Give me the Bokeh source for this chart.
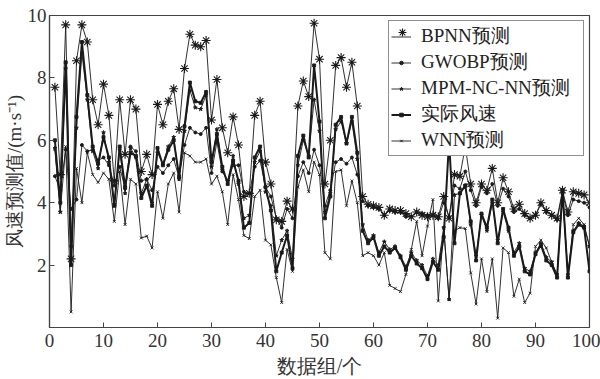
from bokeh.plotting import figure
from bokeh.models import Legend, LegendItem, FixedTicker
from bokeh.embed import file_html
from bokeh.resources import INLINE

x = list(range(1, 101))

bpnn = [7.7, 4.9, 9.7, 2.2, 8.55, 9.7, 9.15, 7.3, 6.5, 7.8,
        6.8, 4.7, 7.3, 5.55, 7.3, 7.0, 5.0, 5.55, 4.9, 7.15,
        6.5, 7.25, 7.65, 6.35, 8.3, 9.4, 9.05, 9.0, 9.2, 6.65,
        7.95, 6.4, 5.6, 6.75, 5.85, 4.2, 4.3, 6.8, 7.25, 5.3,
        4.6, 3.45, 3.4, 4.05, 3.8, 7.1, 7.9, 7.4, 9.75, 8.6,
        4.6, 6.0, 8.4, 8.65, 7.7, 8.5, 7.1, 4.2, 3.95, 3.9,
        3.85, 3.6, 3.8, 3.75, 3.75, 3.65, 3.55, 3.7, 3.6, 3.55,
        3.6, 3.55, 4.2, 3.5, 4.9, 4.85, 5.8, 4.6, 4.0, 4.6,
        4.4, 5.1, 4.0, 4.8, 4.35, 3.8, 3.95, 3.65, 3.5, 3.6,
        4.0, 3.75, 3.6, 3.5, 4.4, 3.7, 4.35, 4.3, 4.25, 4.0]

gwobp = [4.85, 4.4, 5.7, 3.8, 4.1, 5.85, 5.65, 5.7, 5.35, 5.45,
         5.2, 4.55, 5.15, 4.45, 5.8, 5.65, 4.7, 4.75, 4.4, 5.15,
         4.95, 5.2, 5.4, 4.8, 5.85, 6.4, 6.25, 6.2, 6.4, 4.95,
         5.95, 5.0, 4.7, 5.2, 5.2, 4.35, 4.3, 5.15, 5.35, 4.5,
         4.2, 3.5, 3.2, 3.8, 3.5, 4.85, 5.3, 4.95, 5.7, 5.2,
         3.9, 4.4, 5.3, 5.4, 5.25, 5.45, 4.9, 4.05, 3.9, 3.85,
         3.8, 3.6, 3.75, 3.7, 3.7, 3.55, 3.55, 3.7, 3.65, 3.6,
         3.6, 3.5, 4.0, 3.55, 4.55, 4.45, 5.0, 4.4, 3.9, 4.5,
         4.3, 4.6, 3.9, 4.45, 4.2, 3.7, 3.8, 3.6, 3.5, 3.6,
         3.95, 3.7, 3.6, 3.45, 4.3, 3.6, 4.1, 4.05, 4.0, 3.85]

mpm = [5.75, 3.7, 8.3, 2.6, 6.4, 8.8, 7.3, 5.65, 5.1, 6.25,
       5.3, 3.95, 5.7, 4.3, 5.75, 5.45, 4.3, 4.75, 4.0, 5.6,
       5.25, 5.8, 6.1, 4.75, 6.3, 7.6, 7.05, 7.0, 7.45, 5.15,
       6.35, 5.05, 4.7, 5.5, 4.6, 3.5, 3.6, 5.3, 5.65, 4.35,
       3.9, 2.3, 2.8, 3.1, 2.2, 5.2, 6.0, 5.5, 7.3, 6.3,
       3.7, 4.3, 6.35, 6.6, 5.9, 6.6, 5.4, 3.3, 2.8, 2.95,
       2.4, 2.75, 2.5, 2.6, 2.3, 1.95, 2.4, 2.15, 2.0, 1.65,
       2.2, 2.0, 3.2, 0.9, 4.25, 4.3, 4.55, 3.3, 2.3, 3.6,
       3.1, 4.0, 2.8, 3.7, 3.1, 2.4, 2.7, 1.9, 1.8, 2.4,
       2.7, 2.25, 2.1, 1.7, 4.4, 1.7, 3.1, 3.35, 3.25, 2.6]

actual = [6.0, 4.0, 8.5, 2.0, 6.75, 9.15, 7.45, 5.8, 5.25, 6.1,
          5.45, 3.9, 5.8, 4.5, 5.6, 5.5, 4.15, 4.55, 3.9, 5.75,
          5.2, 5.7, 6.0, 4.85, 6.45, 7.85, 7.25, 7.2, 7.55, 5.3,
          6.2, 5.15, 4.6, 5.35, 4.7, 3.2, 3.35, 5.45, 5.8, 4.5,
          3.75, 1.8, 2.4, 2.95, 1.9, 5.5, 6.15, 5.45, 8.4, 6.6,
          3.5, 4.2, 6.5, 6.75, 5.9, 6.75, 5.6, 3.1, 2.7, 2.9,
          2.3, 2.6, 2.4, 2.55, 2.25, 1.85, 2.3, 2.05, 1.9, 1.55,
          2.1, 1.85, 2.9, 6.0, 2.7, 4.3, 4.55, 3.4, 2.15, 3.65,
          3.2, 4.1, 2.7, 3.8, 3.2, 2.3, 2.6, 1.8, 1.7, 2.35,
          2.65, 2.15, 2.0, 1.6, 4.4, 1.6, 3.05, 3.3, 3.2, 1.8]

wnn = [5.7, 3.7, 5.8, 0.5, 5.1, 4.0, 5.6, 4.9, 4.65, 4.95,
       4.75, 3.4, 5.0, 3.3, 4.75, 4.6, 2.87, 2.93, 2.55, 4.35,
       3.5, 4.6, 4.95, 3.7, 5.6, 5.5, 5.3, 5.3, 5.4, 4.6,
       4.85, 4.35, 3.3, 4.9, 4.1, 2.95, 2.85, 4.2, 4.4, 2.8,
       2.65, 1.6, 0.8, 2.5, 1.8, 4.5, 5.05, 4.35, 5.3, 4.9,
       2.4, 2.2, 5.0, 5.05, 3.9, 4.7, 4.0, 2.3, 2.4, 2.3,
       2.0, 2.4, 1.35, 1.25, 1.15, 1.7, 2.5, 3.4, 2.3, 3.25,
       4.1, 0.85, 3.2, 0.9, 3.1, 3.2, 3.17, 1.75, 0.75, 2.2,
       1.15, 2.2, 0.3, 2.55, 2.4, 1.0, 1.55, 0.8, 1.1, 2.6,
       2.8, 2.55, 2.1, 1.65, 4.3, 1.65, 3.3, 3.5, 3.3, 2.6]

x_ticks = [0, 10, 20, 30, 40, 50, 60, 70, 80, 90, 100]
y_ticks = [2, 4, 6, 8, 10]

FONT = "Liberation Serif"
INK = "#1a1a1a"
FRAME = "#444444"

p = figure(width=600, height=379, x_range=(0, 100), y_range=(0, 10),
           output_backend="svg", toolbar_location=None,
           min_border_left=48, min_border_right=11,
           min_border_top=15, min_border_bottom=51)
p.xgrid.visible = False
p.ygrid.visible = False
p.outline_line_color = FRAME
p.outline_line_width = 1.2
p.background_fill_color = "white"
p.border_fill_color = "white"

for ax, ticks in ((p.xaxis[0], x_ticks), (p.yaxis[0], y_ticks)):
    ax.ticker = FixedTicker(ticks=ticks)
    ax.major_tick_in = 5
    ax.major_tick_out = 0
    ax.minor_tick_in = 0
    ax.minor_tick_out = 0
    ax.axis_line_color = FRAME
    ax.axis_line_width = 1.2
    ax.major_tick_line_color = FRAME
    ax.major_label_text_font = FONT
    ax.major_label_text_font_size = "19px"
    ax.major_label_text_color = "#333333"
    ax.axis_label_text_font = FONT
    ax.axis_label_text_font_style = "normal"
    ax.axis_label_text_color = "#333333"

p.xaxis.axis_label = "数据组/个"
p.yaxis.axis_label = "风速预测值/(m·s⁻¹)"
p.xaxis.axis_label_text_font_size = "20px"
p.yaxis.axis_label_text_font_size = "19px"
p.xaxis.major_label_standoff = 6
p.yaxis.major_label_standoff = 3
p.xaxis.axis_label_standoff = 5
p.yaxis.axis_label_standoff = 0

series = [
    ("BPNN预测", bpnn, "asterisk", 9, 0.9),
    ("GWOBP预测", gwobp, "circle", 3, 0.9),
    ("MPM-NC-NN预测", mpm, "star", 4, 0.9),
    ("实际风速", actual, "square", 3, 2.0),
    ("WNN预测", wnn, "x", 4, 0.9),
]

items = []
bp_scatter = None
for name, ys, marker, size, lw in series:
    r1 = p.line(x, ys, line_color=INK, line_width=lw)
    r2 = p.scatter(x, ys, marker=marker, size=size, line_color=INK,
                   fill_color=INK, line_width=1.1 if marker == "asterisk" else 0.9)
    if marker == "asterisk":
        bp_scatter = r2
        items.append(LegendItem(label=name, renderers=[r1]))
    else:
        items.append(LegendItem(label=name, renderers=[r1, r2]))


def style_legend(lg, glyph_h):
    lg.label_text_font = FONT
    lg.label_text_font_size = "19px"
    lg.label_text_color = "#222222"
    lg.label_height = 18
    lg.label_width = 160
    lg.glyph_height = glyph_h
    lg.glyph_width = 20
    lg.label_standoff = 10
    lg.spacing = 0
    lg.padding = 2
    lg.margin = 5


legend = Legend(items=items, location="top_right")
style_legend(legend, 9)
legend.border_line_color = "#222222"
legend.border_line_width = 1
legend.background_fill_alpha = 1
p.add_layout(legend)

# overlay legend drawing only the larger BPNN asterisk on the first row
overlay = Legend(items=[LegendItem(label=" ", renderers=[bp_scatter])],
                 location="top_right")
style_legend(overlay, 20)
overlay.label_text_alpha = 0
overlay.border_line_alpha = 0
overlay.background_fill_alpha = 0
p.add_layout(overlay)

open("out.html", "w").write(file_html(p, INLINE))
